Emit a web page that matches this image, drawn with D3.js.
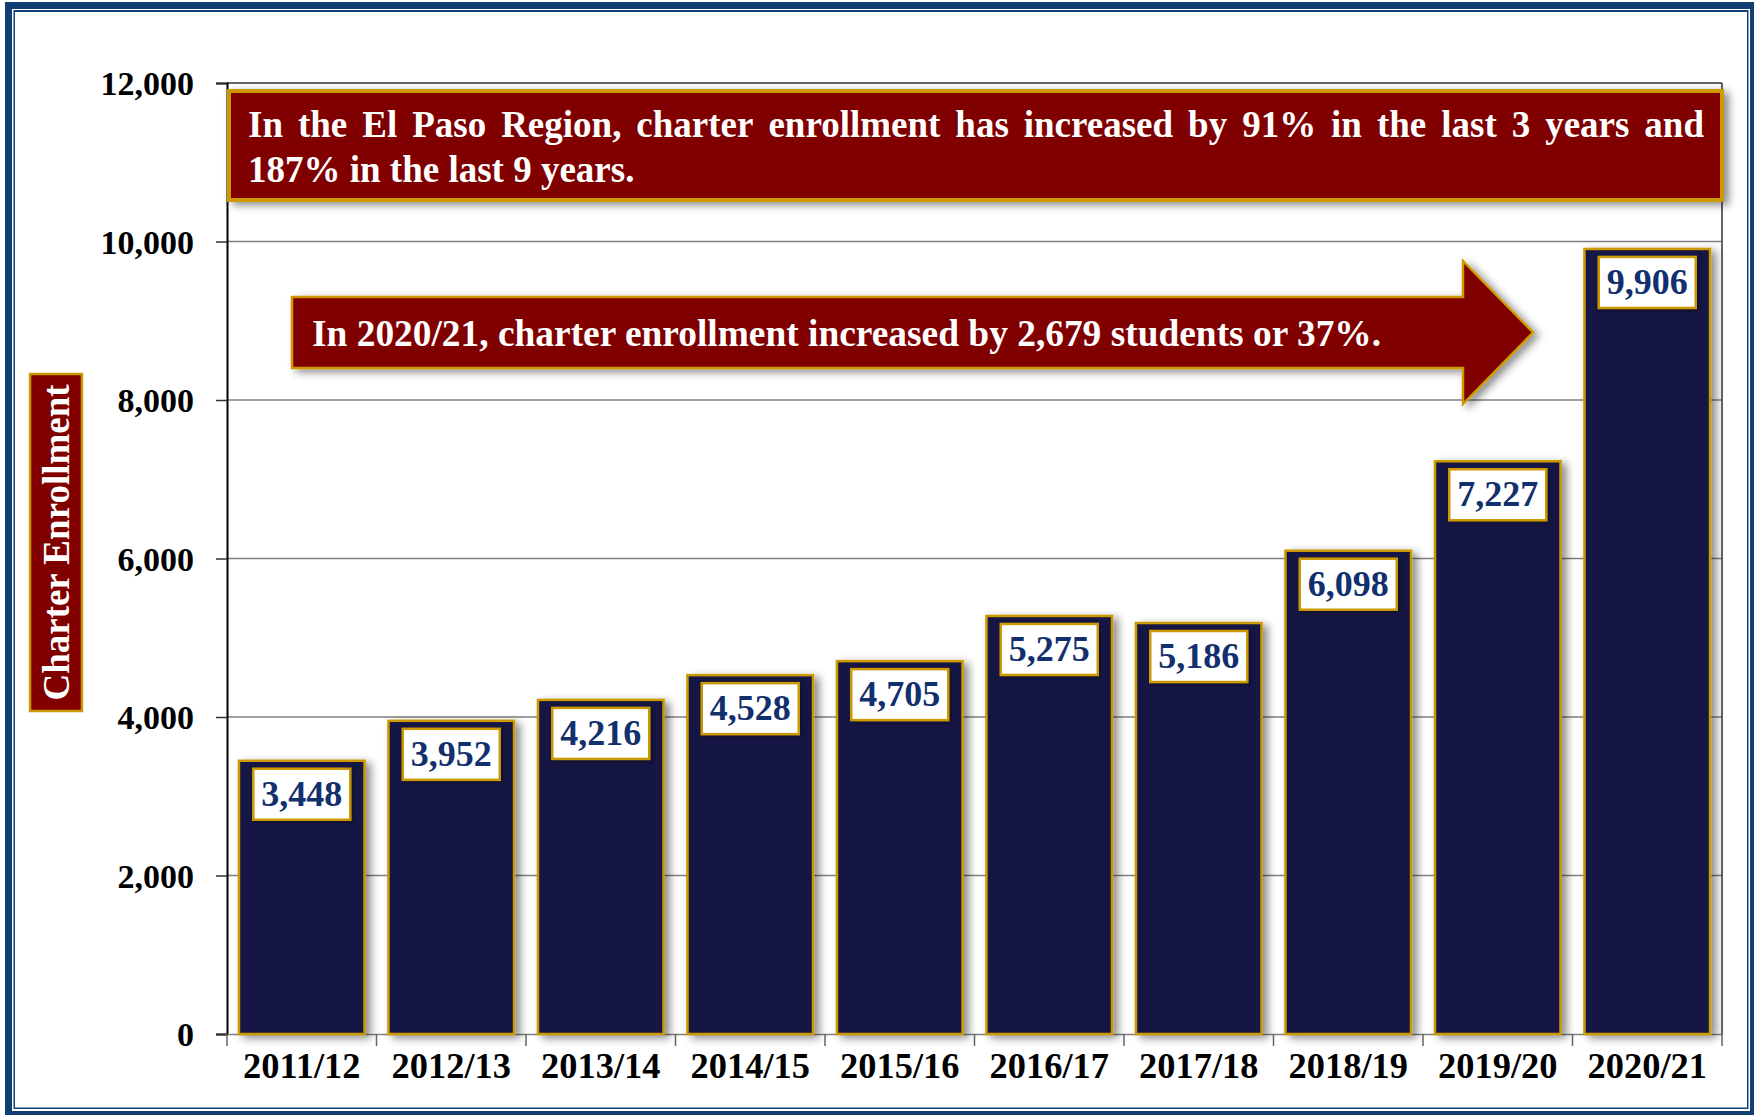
<!DOCTYPE html>
<html><head><meta charset="utf-8">
<script src="https://cdn.jsdelivr.net/npm/d3@7"></script>
<style>html,body{margin:0;padding:0;background:#fff;}svg{display:block;}</style>
</head><body>
<svg id="c" width="1754" height="1115"></svg>
<script>
const categories = ["2011/12","2012/13","2013/14","2014/15","2015/16","2016/17","2017/18","2018/19","2019/20","2020/21"];
const enrollment = [3448,3952,4216,4528,4705,5275,5186,6098,7227,9906];
const yTicks = [0,2000,4000,6000,8000,10000,12000];
const yTitle = "Charter Enrollment";
const bannerLines = ["In the El Paso Region, charter enrollment has increased by 91% in the last 3 years and", "187% in the last 9 years."];
const arrowText = "In 2020/21, charter enrollment increased by 2,679 students or 37%.";

const svg = d3.select("#c");
const blue = "#123f73", gold = "#cc9a06", maroon = "#800000", navy = "#181844", labelBlue = "#12306e";
const serif = "'Liberation Serif','Times New Roman',serif";

const defs = svg.append("defs");
const f = defs.append("filter").attr("id","sh").attr("x","-20%").attr("y","-20%").attr("width","150%").attr("height","150%");
f.append("feDropShadow").attr("dx",5).attr("dy",3).attr("stdDeviation",4).attr("flood-color","#000").attr("flood-opacity",0.45);
const f2 = defs.append("filter").attr("id","sh2").attr("x","-20%").attr("y","-20%").attr("width","150%").attr("height","150%");
f2.append("feDropShadow").attr("dx",2).attr("dy",2).attr("stdDeviation",2).attr("flood-color","#000").attr("flood-opacity",0.35);

// frame
svg.append("rect").attr("x",5).attr("y",2).attr("width",1749).attr("height",1113).attr("fill",blue);
svg.append("rect").attr("x",12).attr("y",9).attr("width",1738).attr("height",1102).attr("fill","#fff");
svg.append("rect").attr("x",13.5).attr("y",10).attr("width",1735).attr("height",1099).attr("fill",blue);
svg.append("rect").attr("x",15).attr("y",12).attr("width",1732).attr("height",1095.5).attr("fill","#fff");

const x0 = 227, x1 = 1722, yTop = 83, yBot = 1034;
const x = d3.scaleBand().domain(categories).range([x0,x1]).paddingInner(0.16).paddingOuter(0.08);
const xb = d3.scaleBand().domain(categories).range([x0,x1]);
const y = d3.scaleLinear().domain([0,12000]).range([yBot,yTop]);

// gridlines
svg.append("g").selectAll("line").data(yTicks.filter(d=>d>0)).join("line")
  .attr("x1",x0).attr("x2",x1).attr("y1",d=>y(d)).attr("y2",d=>y(d))
  .attr("stroke",d=>d===12000?"#333":"#808080").attr("stroke-width",1.5);
svg.append("line").attr("x1",x1).attr("x2",x1).attr("y1",yTop).attr("y2",yBot).attr("stroke","#333").attr("stroke-width",1.5);

// y axis
const yAxis = svg.append("g").attr("transform",`translate(${x0},0)`)
  .call(d3.axisLeft(y).tickValues(yTicks).tickSize(11).tickPadding(22).tickFormat(d3.format(",")));
yAxis.select(".domain").attr("stroke","#000").attr("stroke-width",2);
yAxis.selectAll(".tick line").attr("stroke","#333").attr("stroke-width",1.5);
yAxis.selectAll("text").attr("font-family",serif).attr("font-weight","bold").attr("font-size",34).attr("fill","#000").attr("dy","0.35em");

// x axis
const xAxis = svg.append("g").attr("transform",`translate(0,${yBot})`)
  .call(d3.axisBottom(xb).tickSize(0).tickPadding(44));
xAxis.select(".domain").attr("stroke","#808080").attr("stroke-width",1.5);
xAxis.selectAll("text").attr("font-family",serif).attr("font-weight","bold").attr("font-size",36.4).attr("fill","#000").attr("dy","0");
const bounds = categories.map(c=>xb(c)).concat([x1]);
svg.append("g").selectAll("line").data(bounds).join("line")
  .attr("x1",d=>d).attr("x2",d=>d).attr("y1",yBot).attr("y2",yBot+12).attr("stroke","#666").attr("stroke-width",1.5);

// bars
svg.append("g").selectAll("rect").data(enrollment).join("rect")
  .attr("x",(d,i)=>x(categories[i])).attr("width",x.bandwidth())
  .attr("y",d=>y(d)).attr("height",d=>yBot-y(d))
  .attr("fill",navy).attr("stroke",gold).attr("stroke-width",2.5).attr("filter","url(#sh)");

// value labels
const lg = svg.append("g").selectAll("g").data(enrollment).join("g")
  .attr("transform",(d,i)=>`translate(${x(categories[i])+x.bandwidth()/2},${y(d)+8})`);
lg.append("rect").attr("x",-48.5).attr("y",0).attr("width",97).attr("height",51)
  .attr("fill","#fff").attr("stroke",gold).attr("stroke-width",2.5).attr("filter","url(#sh2)");
lg.append("text").attr("x",0).attr("y",37).attr("text-anchor","middle")
  .attr("font-family",serif).attr("font-weight","bold").attr("font-size",36).attr("fill",labelBlue)
  .text(d=>d3.format(",")(d));

// y title
svg.append("rect").attr("x",30).attr("y",374).attr("width",52).attr("height",337)
  .attr("fill",maroon).attr("stroke",gold).attr("stroke-width",2.5);
svg.append("text").attr("transform","translate(56,542.5) rotate(-90)")
  .attr("text-anchor","middle").attr("dy","0.35em")
  .attr("font-family",serif).attr("font-weight","bold").attr("font-size",37).attr("fill","#fff").text(yTitle);

// banner
svg.append("rect").attr("x",229).attr("y",91).attr("width",1493).attr("height",109)
  .attr("fill",maroon).attr("stroke",gold).attr("stroke-width",4).attr("filter","url(#sh)");
const bx0 = 248, bx1 = 1704;
const words = bannerLines[0].split(" ");
const tmp = svg.append("g");
const widths = words.map(w=>tmp.append("text").attr("font-family",serif).attr("font-weight","bold").attr("font-size",37).text(w).node().getComputedTextLength());
tmp.remove();
const gap = (bx1-bx0-d3.sum(widths))/(words.length-1);
let cx = bx0;
const bt = svg.append("g");
words.forEach((w,i)=>{
  bt.append("text").attr("x",cx).attr("y",137).attr("font-family",serif).attr("font-weight","bold").attr("font-size",37).attr("fill","#fff").text(w);
  cx += widths[i]+gap;
});
bt.append("text").attr("x",bx0).attr("y",182).attr("font-family",serif).attr("font-weight","bold").attr("font-size",37).attr("fill","#fff").text(bannerLines[1]);

// arrow
const ap = d3.path();
ap.moveTo(292,297); ap.lineTo(1463,297); ap.lineTo(1463,261); ap.lineTo(1533,332.5);
ap.lineTo(1463,404); ap.lineTo(1463,368); ap.lineTo(292,368); ap.closePath();
svg.append("path").attr("d",ap.toString()).attr("fill",maroon).attr("stroke",gold).attr("stroke-width",2.5).attr("filter","url(#sh)");
svg.append("text").attr("x",312).attr("y",346).attr("font-family",serif).attr("font-weight","bold").attr("font-size",37.4).attr("fill","#fff").text(arrowText);
</script>
</body></html>
